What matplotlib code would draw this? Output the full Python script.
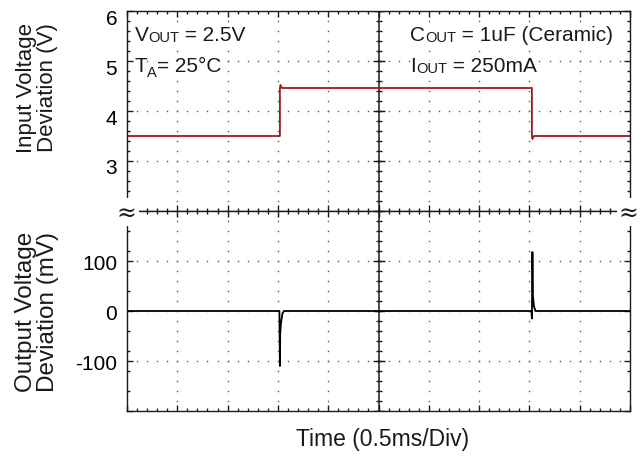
import numpy as np
import matplotlib.pyplot as plt
from matplotlib.ticker import MultipleLocator
from matplotlib.transforms import ScaledTranslation

plt.rcParams['font.family'] = ['Liberation Sans', 'DejaVu Sans']

# time in ms (0.5 ms/div, 10 div)
t_in = [0, 1.52, 1.52, 1.525, 1.54, 4.025, 4.025, 4.03, 4.045, 5.0]
v_in = [3.5, 3.5, 4.45, 4.52, 4.46, 4.46, 3.5, 3.44, 3.5, 3.5]

t_out = [0, 1.515, 1.52, 1.523, 1.53, 1.545, 1.56, 4.02, 4.025, 4.03, 4.035, 4.045, 4.06, 5.0]
v_out = [0, 0, -110, -45, -25, -5, 0, 0, -15, 118, 30, 10, 0, 0]

top_ticks = [2, 3, 4, 5, 6]
top_labels = ['', '3', '4', '5', '6']
bot_ticks = [-200, -100, 0, 100, 200]
bot_labels = ['', '-100', '0', '100', '']

red = '#9a1b1b'
ink = '#1a1a1a'

fig = plt.figure(figsize=(6.43, 4.6), dpi=100)
L, W = 127 / 643, 503 / 643
ax1 = fig.add_axes([L, 248 / 460, W, 200 / 460])
ax2 = fig.add_axes([L, 48 / 460, W, 200 / 460], sharex=ax1)

ax1.set_xlim(0, 5)
ax1.set_ylim(2, 6)
ax2.set_ylim(-200, 200)
ax1.set_yticks(top_ticks, top_labels)
ax2.set_yticks(bot_ticks, bot_labels)

for ax, ymin in [(ax1, 0.2), (ax2, 40)]:
  ax.xaxis.set_major_locator(MultipleLocator(0.5))
  ax.xaxis.set_minor_locator(MultipleLocator(0.1))
  ax.yaxis.set_minor_locator(MultipleLocator(ymin))
  ax.tick_params(which='both', direction='in', top=True, bottom=True, left=True,
                 right=True, labelbottom=False, width=1, color=ink)
  ax.tick_params(which='major', length=4, labelsize=15, pad=7)
  ax.tick_params(which='minor', length=2.5)
  for s in ax.spines.values():
    s.set_linewidth(1.0)
    s.set_color(ink)

  # dotted graticule: dots every 0.2 div
  y0, y1 = ax.get_ylim()
  ystep = (y1 - y0) / 20
  ys = np.arange(y0, y1 + ystep / 2, ystep)
  for xv in np.arange(0.5, 5.0, 0.5):
    if abs(xv - 2.5) < 1e-6:
      continue
    ax.plot(np.full(len(ys), xv), ys, ls='none', marker='s', ms=1.0, color='#555', mew=0)
  xs = np.arange(0, 5.0001, 0.1)
  for yv in np.arange(y0 + (y1 - y0) / 4, y1 - 1e-9, (y1 - y0) / 4):
    ax.plot(xs, np.full(len(xs), yv), ls='none', marker='s', ms=1.0, color='#555', mew=0)

  # solid centre line with cross ticks
  ax.axvline(2.5, color=ink, lw=1.1)
  ax.plot(np.full(len(ys), 2.5), ys, ls='none', marker='_', ms=5, mew=1, color=ink)
  ym = np.arange(y0, y1 + 1e-9, (y1 - y0) / 4)
  ax.plot(np.full(len(ym), 2.5), ym, ls='none', marker='_', ms=8, mew=1, color=ink)

# shift the top tick labels down a little, as in the scope shot
for lbl in ax1.get_yticklabels():
  lbl.set_transform(lbl.get_transform() + ScaledTranslation(0, -5 / 100, fig.dpi_scale_trans))

ax1.plot(t_in, v_in, color=red, lw=1.3)
ax2.plot(t_out, v_out, color='black', lw=1.3)


def label(ax, x, y, parts):
  first = ax.text(x, y, parts[0][0], transform=ax.transAxes, fontsize=parts[0][1],
                  va='bottom', ha='left', color=ink,
                  bbox=dict(facecolor='white', edgecolor='none', pad=0))
  prev = first
  for s, fs, dy in parts[1:]:
    prev = ax.annotate(s, xy=(1, 0), xycoords=(prev, first), xytext=(0, dy),
                       textcoords='offset points', fontsize=fs, va='bottom', ha='left', color=ink,
                       bbox=dict(facecolor='white', edgecolor='none', pad=0))


label(ax1, 0.015, 0.835, [('V', 15, 0), ('OUT', 10.5, 0), (' = 2.5V', 15, 0)])
label(ax1, 0.015, 0.68, [('T', 15, 0), ('A', 10.5, -3), ('= 25°C', 15, 0)])
label(ax1, 0.563, 0.835, [('C', 15, 0), ('OUT', 10.5, 0), (' = 1uF (Ceramic)', 15, 0)])
label(ax1, 0.563, 0.68, [('I', 15, 0), ('OUT', 10.5, 0), (' = 250mA', 15, 0)])

fig.text(37 / 643, 1 - 88 / 460, 'Input Voltage\nDeviation (V)', rotation=90, ha='center',
         va='center', multialignment='center', fontsize=16, linespacing=1.0, color=ink)
fig.text(37 / 643, 1 - 312 / 460, 'Output Voltage\nDeviation (mV)', rotation=90, ha='center',
         va='center', multialignment='right', fontsize=17.5, linespacing=0.95, color=ink)
fig.text(383 / 643, 1 - 440 / 460, 'Time (0.5ms/Div)', ha='center', va='center',
         fontsize=16.5, color=ink)

# axis-break marks
for xp in (126.5, 628.5):
  fig.text(xp / 643, 1 - 213 / 460, '≈', family='DejaVu Serif', fontsize=17, ha='center',
           va='center', color=ink, bbox=dict(facecolor='white', edgecolor='none', pad=1.5))

fig.savefig('out.png', dpi=100)
